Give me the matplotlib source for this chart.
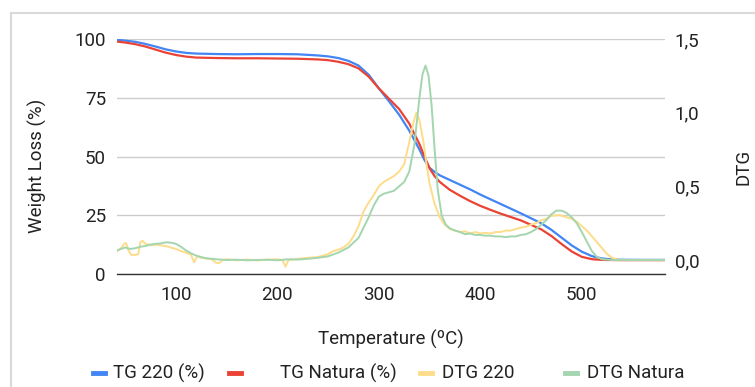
import matplotlib
matplotlib.use("Agg")
import matplotlib.pyplot as plt
from matplotlib.lines import Line2D

plt.rcParams["font.family"] = ["Roboto", "DejaVu Sans"]

# TG curves (weight %, left axis)
tg_220_temp = [42, 50, 60, 70, 80, 90, 100, 110, 120, 140, 160, 180, 200, 220, 240, 250, 260,
               270, 280, 290, 300, 310, 320, 330, 340, 345, 350, 355, 360, 370, 380, 390, 400,
               410, 420, 440, 460, 470, 480, 490, 500, 510, 520, 530, 540, 560, 582]
tg_220 = [99.7, 99.3, 98.8, 97.9, 96.8, 95.6, 94.7, 94.1, 93.8, 93.6, 93.5, 93.6, 93.6, 93.5,
          93.0, 92.6, 91.9, 90.7, 88.7, 84.8, 79.0, 73.5, 67.8, 61.0, 53.0, 48.5, 45.2, 43.4,
          42.0, 40.0, 38.0, 36.0, 33.8, 31.8, 29.8, 25.8, 21.6, 18.8, 15.5, 12.2, 9.5, 7.6,
          6.6, 6.2, 6.05, 6.0, 6.0]

tg_nat_temp = [42, 50, 60, 70, 80, 90, 100, 110, 120, 140, 160, 180, 200, 220, 240, 250, 260,
               270, 280, 290, 300, 310, 320, 330, 340, 345, 350, 355, 360, 370, 380, 390, 400,
               410, 420, 440, 460, 470, 480, 490, 500, 510, 520, 540, 582]
tg_nat = [98.9, 98.5, 97.8, 96.8, 95.5, 94.2, 93.2, 92.5, 92.1, 91.9, 91.8, 91.8, 91.7, 91.6,
          91.3, 91.0, 90.3, 89.3, 87.5, 84.0, 79.0, 74.6, 70.2, 64.0, 55.3, 50.0, 45.0, 41.6,
          39.2, 35.8, 33.3, 31.0, 29.0, 27.3, 25.7, 22.8, 19.0, 16.2, 12.8, 9.6, 7.3, 6.3,
          6.0, 5.9, 5.9]

# DTG curves (right axis)
dtg_220_temp = [42, 46, 49, 51, 53, 56, 60, 63, 65, 67, 70, 75, 80, 85, 90, 95, 100, 105, 110,
                115, 118, 121, 125, 130, 135, 140, 143, 146, 150, 160, 170, 180, 190, 200, 205,
                208, 211, 220, 230, 240, 250, 255, 260, 265, 270, 275, 280, 285, 290, 295, 300,
                305, 310, 315, 320, 325, 330, 334, 337, 340, 344, 347, 350, 355, 360, 365, 370,
                375, 380, 385, 390, 395, 400, 405, 410, 415, 420, 425, 430, 435, 440, 445, 450,
                455, 460, 465, 470, 478, 485, 490, 495, 500, 505, 510, 515, 520, 525, 530, 535,
                545, 560, 582]
dtg_220 = [0.06, 0.08, 0.11, 0.115, 0.07, 0.035, 0.035, 0.04, 0.12, 0.13, 0.11, 0.10, 0.105,
           0.10, 0.095, 0.085, 0.075, 0.06, 0.05, 0.035, -0.015, 0.025, 0.015, 0.01, 0.005,
           -0.02, -0.02, 0.0, 0.005, -0.002, 0.003, -0.003, 0.002, 0.005, 0.0, -0.045, 0.0,
           0.008, 0.015, 0.02, 0.04, 0.06, 0.07, 0.085, 0.11, 0.16, 0.23, 0.33, 0.39, 0.44,
           0.50, 0.53, 0.55, 0.57, 0.60, 0.65, 0.80, 0.93, 1.0, 0.95, 0.80, 0.65, 0.52, 0.38,
           0.29, 0.24, 0.21, 0.20, 0.19, 0.195, 0.18, 0.19, 0.18, 0.185, 0.18, 0.19, 0.19, 0.20,
           0.20, 0.21, 0.22, 0.225, 0.24, 0.25, 0.27, 0.28, 0.30, 0.305, 0.29, 0.28, 0.26, 0.23,
           0.20, 0.16, 0.12, 0.08, 0.04, 0.015, 0.003, 0.0, 0.0, 0.0]

dtg_nat_temp = [42, 46, 50, 55, 60, 65, 70, 75, 80, 85, 90, 95, 100, 105, 110, 115, 120, 125,
                130, 140, 150, 160, 170, 180, 190, 200, 210, 220, 230, 240, 250, 260, 270, 280,
                285, 290, 295, 300, 305, 310, 315, 320, 325, 330, 335, 340, 343, 346, 349, 352,
                355, 358, 362, 366, 370, 375, 380, 385, 390, 395, 400, 405, 410, 415, 420, 425,
                430, 435, 440, 445, 450, 455, 460, 465, 470, 475, 480, 485, 490, 495, 500, 505,
                510, 515, 520, 530, 560, 582]
dtg_nat = [0.065, 0.075, 0.085, 0.075, 0.08, 0.09, 0.095, 0.105, 0.11, 0.112, 0.12, 0.118,
           0.11, 0.09, 0.065, 0.045, 0.03, 0.02, 0.012, 0.005, 0.0, 0.002, -0.002, 0.0, 0.002,
           -0.002, 0.005, 0.003, 0.008, 0.015, 0.025, 0.05, 0.085, 0.15, 0.22, 0.29, 0.37,
           0.43, 0.45, 0.46, 0.47, 0.50, 0.53, 0.60, 0.78, 1.10, 1.26, 1.32, 1.25, 1.05, 0.75,
           0.48, 0.30, 0.24, 0.215, 0.20, 0.19, 0.175, 0.18, 0.17, 0.17, 0.165, 0.165, 0.16,
           0.16, 0.155, 0.16, 0.16, 0.17, 0.175, 0.19, 0.21, 0.24, 0.27, 0.31, 0.335, 0.335,
           0.32, 0.29, 0.25, 0.19, 0.125, 0.06, 0.02, 0.005, 0.0, 0.0, 0.0]

blue = "#4285F4"
red = "#EA4335"
yellow = "#FDDC8A"
green = "#A3D6AE"
txt = "#222222"
fs = 13.5

fig = plt.figure(figsize=(7.55, 3.87), dpi=100)
ax = fig.add_axes([117 / 755, 1 - 274 / 387, (665 - 117) / 755, (274 - 39) / 387])
ax2 = ax.twinx()

ax.plot(tg_220_temp, tg_220, color=blue, lw=1.6, solid_capstyle="round")
ax.plot(tg_nat_temp, tg_nat, color=red, lw=1.6, solid_capstyle="round")
ax2.plot(dtg_220_temp, dtg_220, color=yellow, lw=1.4)
ax2.plot(dtg_nat_temp, dtg_nat, color=green, lw=1.4)

ax.set_xlim(42, 582)
ax.set_ylim(0, 100)
ax2.set_ylim(-0.095, 1.5)
ax.set_xticks([100, 200, 300, 400, 500])
ax.set_yticks([0, 25, 50, 75, 100])
ax2.set_yticks([0, 0.5, 1.0, 1.5])
ax2.set_yticklabels(["0,0", "0,5", "1,0", "1,5"])

ax.grid(axis="y", color="#cccccc", lw=1)
ax.set_axisbelow(True)
for s in ["top", "left", "right"]:
    ax.spines[s].set_visible(False)
    ax2.spines[s].set_visible(False)
ax2.spines["bottom"].set_visible(False)
ax.spines["bottom"].set_color("#333333")
ax.spines["bottom"].set_linewidth(1)

ax.tick_params(axis="x", length=0, pad=9, labelsize=fs, labelcolor=txt)
ax.tick_params(axis="y", length=0, pad=8, labelsize=fs, labelcolor=txt)
ax2.tick_params(axis="y", length=0, pad=7, labelsize=fs, labelcolor=txt)

fig.text(391 / 755, 1 - 339 / 387, "Temperature (ºC)", ha="center", va="center", fontsize=fs, color=txt)
fig.text(37 / 755, 1 - 166 / 387, "Weight Loss (%)", ha="center", va="center", rotation=90, fontsize=fs, color=txt)
fig.text(743 / 755, 1 - 167 / 387, "DTG", ha="center", va="center", rotation=90, fontsize=fs, color=txt)

# legend, placed like the original
legend_items = [("TG 220 (%)", blue, 93, 113), ("TG Natura (%)", red, 229, 280),
                ("DTG 220", yellow, 420, 442), ("DTG Natura", green, 565, 587)]
ly = 1 - 373 / 387
for label, col, mx, tx in legend_items:
    fig.add_artist(Line2D([mx / 755, (mx + 12) / 755], [ly, ly], color=col, lw=3.5))
    fig.text(tx / 755, ly, label, ha="left", va="center", fontsize=fs, color=txt)

# frame
fig.add_artist(Line2D([11 / 755, 11 / 755], [0, 1 - 13 / 387], color="#d9d9d9", lw=1.5))
fig.add_artist(Line2D([11 / 755, 1], [1 - 13 / 387, 1 - 13 / 387], color="#d9d9d9", lw=1.5))

fig.savefig("out.png", dpi=100)
